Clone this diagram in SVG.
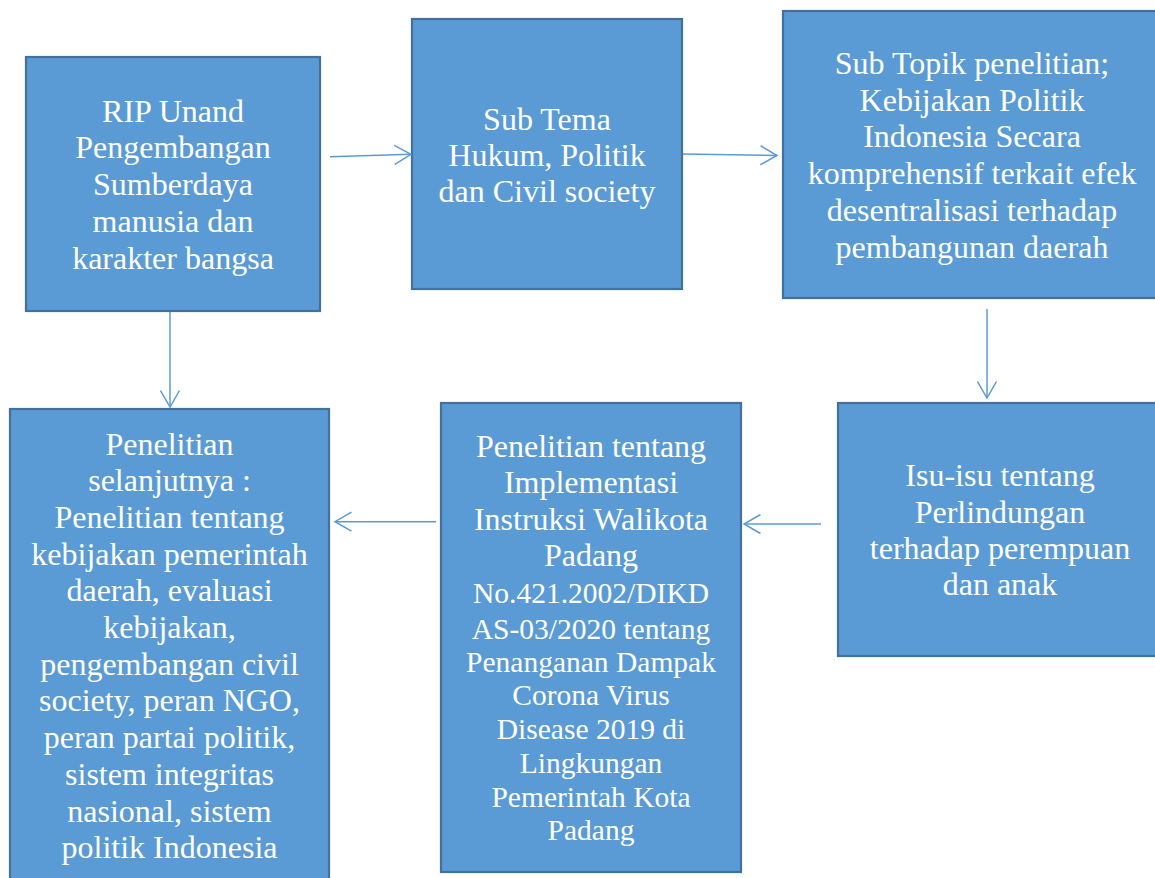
<svg xmlns="http://www.w3.org/2000/svg" width="1155" height="878" viewBox="0 0 1155 878">
<style>
.box{fill:#5B9BD5;stroke:#41719C;stroke-width:2.2}
.t{font-family:"Liberation Serif","Times New Roman",serif;font-size:32px;fill:#FFFFFF;text-anchor:middle}
.s{font-size:29.5px}
.c{fill:none;stroke:#5B9BD5;stroke-width:1.5}
</style>
<defs>
<marker id="ah" markerUnits="userSpaceOnUse" markerWidth="19" markerHeight="21" viewBox="0 0 19 21" refX="17" refY="10.5" orient="auto">
<path d="M0.5,1 L17,10.5 L0.5,20" fill="none" stroke="#5B9BD5" stroke-width="1.5"/>
</marker>
</defs>
<rect width="1155" height="878" fill="#FFFFFF"/>
<g id="n1">
<rect class="box" x="26" y="57" width="294" height="254"/>
<text class="t" x="173" y="121.5">RIP Unand</text>
<text class="t" x="173" y="158.3">Pengembangan</text>
<text class="t" x="173" y="195.1">Sumberdaya</text>
<text class="t" x="173" y="231.9">manusia dan</text>
<text class="t" x="173" y="268.7">karakter bangsa</text>
</g>
<g id="n2">
<rect class="box" x="412" y="19" width="270" height="270"/>
<text class="t" x="547" y="129.5">Sub Tema</text>
<text class="t" x="547" y="165.8">Hukum, Politik</text>
<text class="t" x="547" y="202.1">dan Civil society</text>
</g>
<g id="n3">
<rect class="box" x="783" y="11" width="380" height="287"/>
<text class="t" x="972" y="74">Sub Topik penelitian;</text>
<text class="t" x="972" y="110.7">Kebijakan Politik</text>
<text class="t" x="972" y="147.4">Indonesia Secara</text>
<text class="t" x="972" y="184.1">komprehensif terkait efek</text>
<text class="t" x="972" y="220.8">desentralisasi terhadap</text>
<text class="t" x="972" y="257.5">pembangunan daerah</text>
</g>
<g id="n4">
<rect class="box" x="838" y="403" width="325" height="253"/>
<text class="t" x="1000" y="486">Isu-isu tentang</text>
<text class="t" x="1000" y="522.5">Perlindungan</text>
<text class="t" x="1000" y="559">terhadap perempuan</text>
<text class="t" x="1000" y="595">dan anak</text>
</g>
<g id="n5">
<rect class="box" x="441" y="403" width="300" height="469"/>
<text class="t" x="591" y="456.7">Penelitian tentang</text>
<text class="t" x="591" y="493">Implementasi</text>
<text class="t" x="591" y="529.5">Instruksi Walikota</text>
<text class="t" x="591" y="566">Padang</text>
<text class="t s" x="591" y="603">No.421.2002/DIKD</text>
<text class="t s" x="591" y="639.3">AS-03/2020 tentang</text>
<text class="t s" x="591" y="671.7">Penanganan Dampak</text>
<text class="t s" x="591" y="705.3">Corona Virus</text>
<text class="t s" x="591" y="739">Disease 2019 di</text>
<text class="t s" x="591" y="773">Lingkungan</text>
<text class="t s" x="591" y="806.7">Pemerintah Kota</text>
<text class="t s" x="591" y="840.3">Padang</text>
</g>
<g id="n6">
<rect class="box" x="10" y="409" width="319" height="480"/>
<text class="t" x="169.5" y="454.5">Penelitian</text>
<text class="t" x="169.5" y="491.2">selanjutnya :</text>
<text class="t" x="169.5" y="527.9">Penelitian tentang</text>
<text class="t" x="169.5" y="564.6">kebijakan pemerintah</text>
<text class="t" x="169.5" y="601.3">daerah, evaluasi</text>
<text class="t" x="169.5" y="638">kebijakan,</text>
<text class="t" x="169.5" y="674.7">pengembangan civil</text>
<text class="t" x="169.5" y="711.4">society, peran NGO,</text>
<text class="t" x="169.5" y="748.1">peran partai politik,</text>
<text class="t" x="169.5" y="784.8">sistem integritas</text>
<text class="t" x="169.5" y="821.5">nasional, sistem</text>
<text class="t" x="169.5" y="858.2">politik Indonesia</text>
</g>
<g id="connectors">
<line class="c" x1="330" y1="156.7" x2="411" y2="154.3" marker-end="url(#ah)"/>
<line class="c" x1="683" y1="154" x2="777" y2="155.5" marker-end="url(#ah)"/>
<line class="c" x1="987" y1="309" x2="987" y2="398" marker-end="url(#ah)"/>
<line class="c" x1="170" y1="312" x2="170" y2="407" marker-end="url(#ah)"/>
<line class="c" x1="821" y1="524" x2="744" y2="524" marker-end="url(#ah)"/>
<line class="c" x1="436" y1="521.7" x2="335" y2="521.7" marker-end="url(#ah)"/>
</g>
</svg>
